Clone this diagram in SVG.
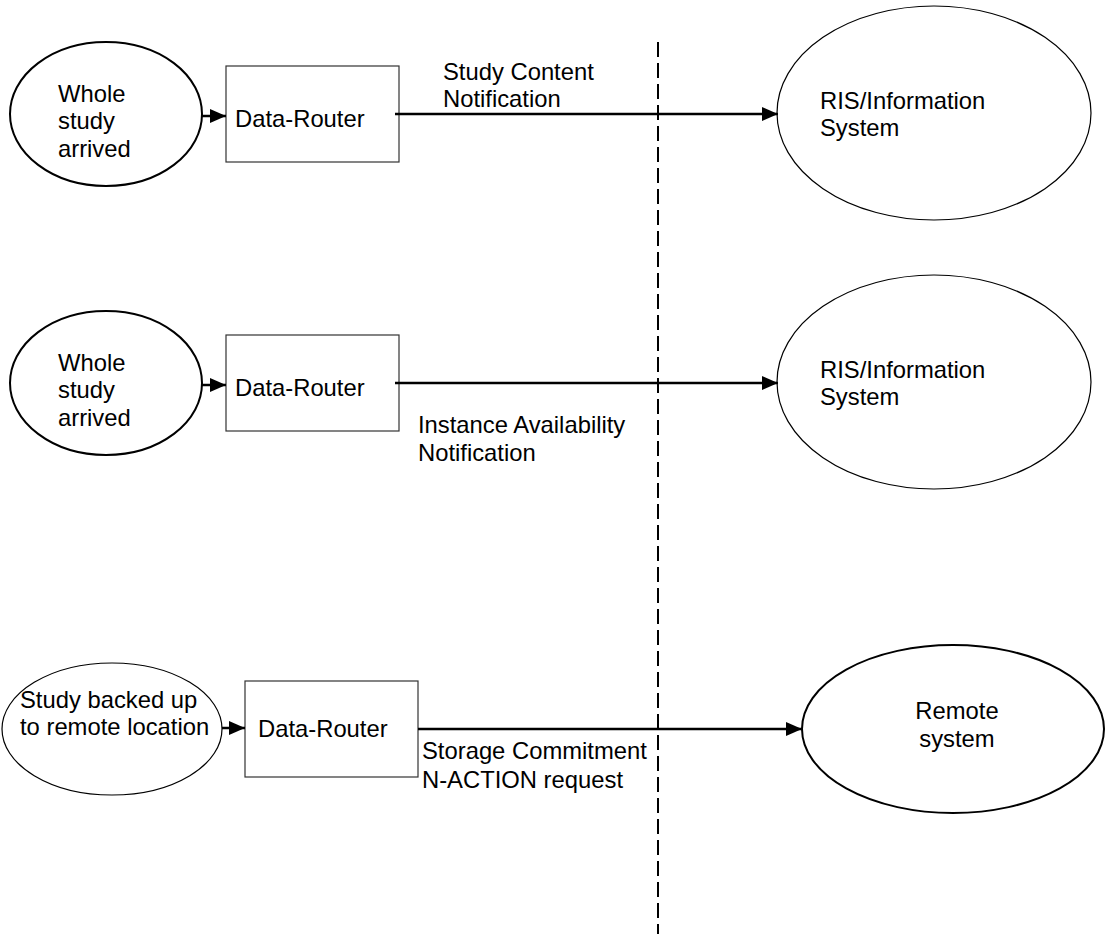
<svg xmlns="http://www.w3.org/2000/svg" width="1106" height="934" viewBox="0 0 1106 934">
<style>
text{font-family:"Liberation Sans",Arial,sans-serif;font-size:23.8px;fill:#000}
.thick{fill:#fff;stroke:#000;stroke-width:2}
.thin{fill:#fff;stroke:#000;stroke-width:1.2}
.box{fill:#fff;stroke:#333;stroke-width:1.2}
.conn{stroke:#000;stroke-width:2.5;fill:none}
.mid{text-anchor:middle}
</style>
<defs>
<marker id="ah" viewBox="0 0 16 14" refX="16" refY="7" markerWidth="16" markerHeight="14" markerUnits="userSpaceOnUse" orient="auto">
<path d="M0,0 L16,7 L0,14 z" fill="#000"/>
</marker>
</defs>
<line x1="658" y1="42" x2="658" y2="934" stroke="#000" stroke-width="2" stroke-dasharray="15 6"/>
<g id="n1"><ellipse class="thick" cx="106" cy="114" rx="96" ry="72"/><text x="58" y="102">Whole</text><text x="58" y="129">study</text><text x="58" y="157">arrived</text></g>
<g id="r1"><rect class="box" x="226" y="66" width="173" height="96"/><text x="235" y="127">Data-Router</text></g>
<g id="ris1"><ellipse class="thin" cx="934" cy="113" rx="157" ry="107"/><text x="820" y="109">RIS/Information</text><text x="820" y="136">System</text></g>
<g id="n2"><ellipse class="thick" cx="106" cy="383" rx="96" ry="72"/><text x="58" y="371">Whole</text><text x="58" y="398">study</text><text x="58" y="426">arrived</text></g>
<g id="r2"><rect class="box" x="226" y="335" width="173" height="96"/><text x="235" y="396">Data-Router</text></g>
<g id="ris2"><ellipse class="thin" cx="934" cy="382" rx="157" ry="107"/><text x="820" y="378">RIS/Information</text><text x="820" y="405">System</text></g>
<g id="n3"><ellipse class="thin" cx="112" cy="729" rx="110" ry="66"/><text x="20" y="708">Study backed up</text><text x="20" y="735">to remote location</text></g>
<g id="r3"><rect class="box" x="245" y="681" width="173" height="96"/><text x="258" y="737">Data-Router</text></g>
<g id="rs"><ellipse class="thick" cx="953" cy="729" rx="151" ry="84"/><text class="mid" x="957" y="719">Remote</text><text class="mid" x="957" y="747">system</text></g>
<g id="connectors">
<line class="conn" x1="202" y1="116" x2="226" y2="116" marker-end="url(#ah)"/>
<line class="conn" x1="395" y1="114" x2="778" y2="114" marker-end="url(#ah)"/>
<line class="conn" x1="202" y1="385" x2="226" y2="385" marker-end="url(#ah)"/>
<line class="conn" x1="395" y1="383" x2="778" y2="383" marker-end="url(#ah)"/>
<line class="conn" x1="222" y1="728" x2="245" y2="728" marker-end="url(#ah)"/>
<line class="conn" x1="418" y1="729" x2="802" y2="729" marker-end="url(#ah)"/>
</g>
<g id="labels">
<text x="443" y="80">Study Content</text><text x="443" y="107">Notification</text>
<text x="418" y="433">Instance Availability</text><text x="418" y="461">Notification</text>
<text x="422" y="759">Storage Commitment</text><text x="422" y="788">N-ACTION request</text>
</g>
</svg>
